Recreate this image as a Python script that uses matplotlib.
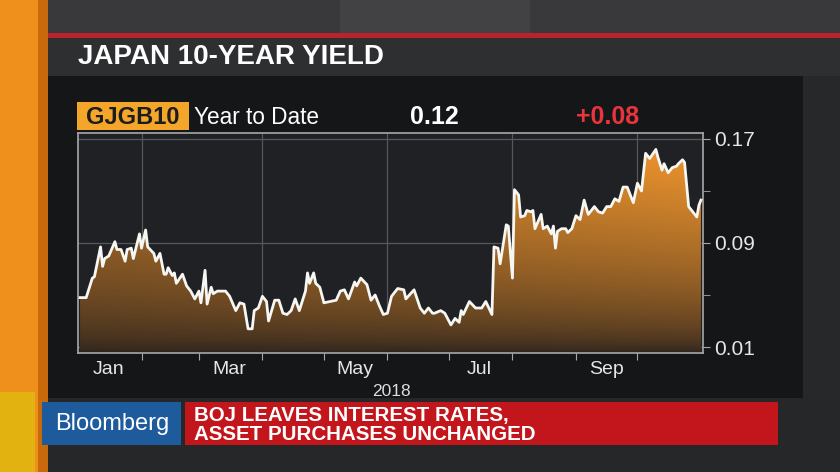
import numpy as np
import matplotlib.pyplot as plt
import matplotlib.dates as mdates
from matplotlib.patches import Rectangle, PathPatch
from matplotlib.colors import to_rgb

plt.rcParams['font.family'] = ['Liberation Sans', 'DejaVu Sans']
NARROW = ['Liberation Sans Narrow', 'Liberation Sans', 'DejaVu Sans']

# GJGB10: day of 2018 (0 = Jan 1) and yield in %
day_of_year = [1, 4, 7, 8, 11, 12, 13, 15, 18, 19, 21, 23, 24, 26, 27, 30,
               31, 33, 34, 37, 38, 40, 42, 43, 44, 46, 47, 48, 51, 53, 55, 57,
               59, 60, 62, 63, 65, 66, 68, 72, 74, 77, 79, 81, 83, 85, 86, 88,
               90, 92, 93, 96, 98, 100, 102, 104, 106, 108, 111, 112, 113, 115,
               116, 118, 120, 126, 128, 130, 132, 135, 136, 138, 141, 143, 145,
               147, 149, 151, 153, 156, 159, 160, 164, 167, 169, 171, 173, 174,
               177, 179, 182, 184, 186, 187, 188, 191, 194, 197, 199, 202, 203,
               205, 206, 208, 209, 210, 212, 213, 215, 216, 218, 219, 221, 222,
               223, 226, 227, 229, 231, 232, 233, 234, 236, 238, 239, 241, 243,
               245, 247, 249, 252, 254, 256, 258, 260, 262, 264, 266, 268, 271,
               273, 275, 277, 279, 282, 283, 285, 286, 288, 290, 292, 293, 295,
               296, 298, 302, 303, 304]
yields = [0.048, 0.048, 0.063, 0.064, 0.087, 0.072, 0.078, 0.080, 0.091, 0.085,
          0.085, 0.076, 0.085, 0.086, 0.078, 0.097, 0.086, 0.100, 0.087, 0.082,
          0.076, 0.082, 0.066, 0.066, 0.071, 0.065, 0.067, 0.059, 0.066, 0.057,
          0.053, 0.047, 0.053, 0.044, 0.069, 0.043, 0.056, 0.051, 0.053, 0.053,
          0.049, 0.038, 0.044, 0.043, 0.024, 0.024, 0.038, 0.040, 0.049, 0.045,
          0.030, 0.046, 0.046, 0.036, 0.035, 0.038, 0.047, 0.038, 0.053, 0.067,
          0.059, 0.067, 0.059, 0.056, 0.044, 0.046, 0.053, 0.054, 0.047, 0.060,
          0.057, 0.063, 0.058, 0.046, 0.050, 0.042, 0.035, 0.036, 0.049, 0.055,
          0.054, 0.047, 0.054, 0.040, 0.036, 0.040, 0.036, 0.036, 0.038, 0.036,
          0.027, 0.032, 0.029, 0.038, 0.035, 0.045, 0.040, 0.040, 0.045, 0.035,
          0.087, 0.086, 0.074, 0.094, 0.104, 0.103, 0.063, 0.131, 0.127, 0.110,
          0.111, 0.115, 0.114, 0.115, 0.101, 0.112, 0.101, 0.103, 0.097, 0.103,
          0.086, 0.099, 0.101, 0.101, 0.098, 0.101, 0.111, 0.108, 0.123, 0.112,
          0.118, 0.114, 0.113, 0.118, 0.118, 0.124, 0.122, 0.133, 0.133, 0.121,
          0.136, 0.130, 0.159, 0.155, 0.162, 0.156, 0.146, 0.151, 0.144, 0.148,
          0.149, 0.151, 0.154, 0.152, 0.118, 0.110, 0.119, 0.123]

month_labels = ['Jan', 'Mar', 'May', 'Jul', 'Sep']
ytick_values = [0.01, 0.09, 0.17]
ytick_minor = [0.05, 0.13]
year_label = '2018'
title = 'JAPAN 10-YEAR YIELD'
ticker = 'GJGB10'
period = 'Year to Date'
last_value = '0.12'
change = '+0.08'
brand = 'Bloomberg'
headline = ['BOJ LEAVES INTEREST RATES,', 'ASSET PURCHASES UNCHANGED']

W, H = 840, 472
fig = plt.figure(figsize=(W / 100, H / 100), dpi=100)
fig.patch.set_facecolor('#2a2b2d')

# background drawn in pixel coordinates
bg = fig.add_axes([0, 0, 1, 1])
bg.set_xlim(0, W)
bg.set_ylim(H, 0)
bg.axis('off')


def box(x, y, w, h, color, z=1):
    bg.add_patch(Rectangle((x, y), w, h, facecolor=color, edgecolor='none', zorder=z))


box(0, 0, W, H, '#262728', 0)
box(45, 0, W - 45, 34, '#39393b')
box(340, 0, 190, 34, '#424244')
box(45, 33, W - 45, 5, '#b8232c')
box(45, 38, W - 45, 38, '#2d2f31')
box(48, 76, 755, 322, '#151618')
box(803, 76, 37, 322, '#27282a')
box(0, 0, 40, H, '#f0901c')
box(38, 0, 10, H, '#c86a0c')
box(0, 392, 35, 80, '#e2b210', 2)

bg.text(78, 57, title, color='white', fontsize=20, fontweight='bold',
        family=NARROW, va='center', ha='left')

# header row
box(77, 102, 112, 28, '#f4a62a')
bg.text(133, 117, ticker, color='#1c1c1c', fontsize=17, fontweight='bold',
        va='center', ha='center')
bg.text(194, 118, period, color='white', fontsize=16.3, va='center', ha='left')
bg.text(410, 117, last_value, color='white', fontsize=18, fontweight='bold',
        va='center', ha='left')
bg.text(576, 117, change, color='#e8353b', fontsize=18, fontweight='bold',
        va='center', ha='left')

bg.text(391, 391, year_label, color='#dddddd', fontsize=12.5, va='center', ha='center')

# lower third
box(42, 402, 139, 43, '#1e5b9c', 3)
bg.text(112, 424, brand, color='white', fontsize=17, va='center', ha='center',
        family=NARROW, zorder=4)
box(185, 402, 593, 43, '#c3161c', 3)
for i, line in enumerate(headline):
    bg.text(194, 415 + i * 20, line, color='white', fontsize=14.8, fontweight='bold',
            family=NARROW, va='center', ha='left', zorder=4)

# chart
ax = fig.add_axes([78 / W, 1 - 353 / H, 625 / W, 220 / H])
ax.set_facecolor('#1f2124')

start = np.datetime64('2018-01-01')
dates = start + np.array(day_of_year).astype('timedelta64[D]')
x0 = mdates.date2num(start)
x1 = mdates.date2num(np.datetime64('2018-11-02'))
ylo, yhi = 0.0054, 0.1746
ax.set_xlim(x0, x1)
ax.set_ylim(ylo, yhi)

# orange gradient fill clipped under the line
yy = np.linspace(0, 1, 200)[:, None]
xx = np.linspace(0, 1, 300)[None, :]
t = (yy ** 0.6) * (0.72 + 0.28 * xx)
dark = np.array(to_rgb('#2a221d'))
orange = np.array(to_rgb('#f89a2e'))
img = dark + t[..., None] * (orange - dark)
im = ax.imshow(img, extent=[x0, x1, ylo, yhi], origin='lower', aspect='auto', zorder=1)
poly = ax.fill_between(dates, yields, ylo, color='none', linewidth=0)
clip = PathPatch(poly.get_paths()[0], transform=ax.transData,
                 facecolor='none', edgecolor='none')
ax.add_patch(clip)
im.set_clip_path(clip)

ax.plot(dates, yields, color='#f6f6f2', lw=2.0, zorder=3, solid_joinstyle='round')

month_starts = np.arange('2018-02', '2018-11', dtype='datetime64[M]').astype('datetime64[D]')
for m in month_starts[::2]:
    ax.axvline(m, color='#55575b', lw=0.9, zorder=0.5)
for v in ytick_values:
    ax.axhline(v, color='#55575b', lw=0.9, zorder=0.5)

ax.set_xticks(month_starts)
ax.set_xticklabels([])
mids = np.arange('2018-01', '2018-10', 2, dtype='datetime64[M]').astype('datetime64[D]') + 15
ax.set_xticks(mids, minor=True)
ax.set_xticklabels(month_labels, minor=True)
ax.tick_params(axis='x', which='major', length=5, color='#a8a8a8', direction='out')
ax.tick_params(axis='x', which='minor', length=0, pad=6, labelsize=14, labelcolor='#e6e6e6')

ax.yaxis.tick_right()
ax.set_yticks(ytick_values)
ax.set_yticklabels([f'{v:.2f}' for v in ytick_values])
ax.set_yticks(ytick_minor, minor=True)
ax.tick_params(axis='y', which='both', length=5, color='#a8a8a8', direction='out',
               labelsize=15, labelcolor='#e6e6e6', pad=3)

for s in ax.spines.values():
    s.set_color('#a8a8a8')
    s.set_linewidth(1.2)

fig.savefig('out.png', dpi=100, facecolor=fig.get_facecolor())
